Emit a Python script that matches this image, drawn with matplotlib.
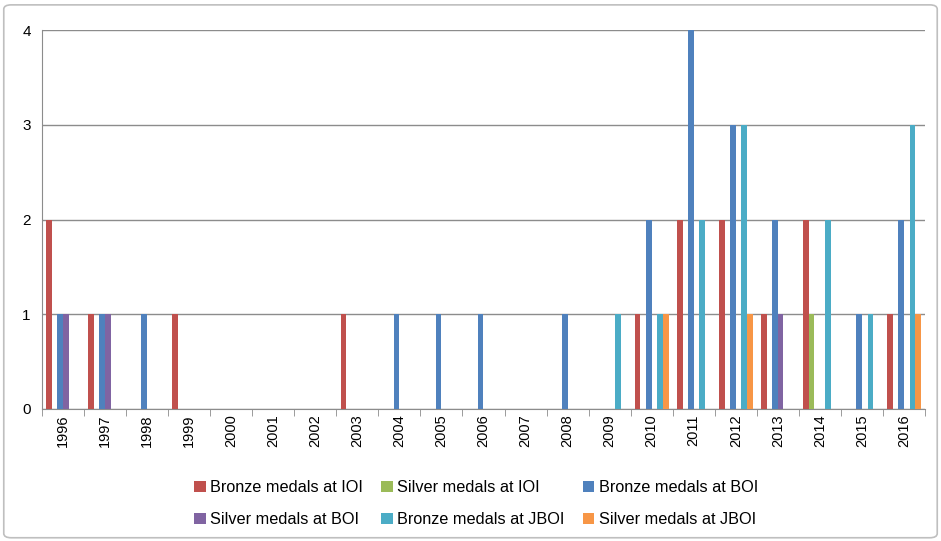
import numpy as np
import matplotlib.pyplot as plt
from matplotlib.patches import FancyBboxPatch

# data
years = ['1996', '1997', '1998', '1999', '2000', '2001', '2002', '2003', '2004', '2005',
         '2006', '2007', '2008', '2009', '2010', '2011', '2012', '2013', '2014', '2015', '2016']
bronze_ioi = [2, 1, 0, 1, 0, 0, 0, 1, 0, 0, 0, 0, 0, 0, 1, 2, 2, 1, 2, 0, 1]
silver_ioi = [0, 0, 0, 0, 0, 0, 0, 0, 0, 0, 0, 0, 0, 0, 0, 0, 0, 0, 1, 0, 0]
bronze_boi = [1, 1, 1, 0, 0, 0, 0, 0, 1, 1, 1, 0, 1, 0, 2, 4, 3, 2, 0, 1, 2]
silver_boi = [1, 1, 0, 0, 0, 0, 0, 0, 0, 0, 0, 0, 0, 0, 0, 0, 0, 1, 0, 0, 0]
bronze_jboi = [0, 0, 0, 0, 0, 0, 0, 0, 0, 0, 0, 0, 0, 1, 1, 2, 3, 0, 2, 1, 3]
silver_jboi = [0, 0, 0, 0, 0, 0, 0, 0, 0, 0, 0, 0, 0, 0, 1, 0, 1, 0, 0, 0, 1]

series = [bronze_ioi, silver_ioi, bronze_boi, silver_boi, bronze_jboi, silver_jboi]
labels = ['Bronze medals at IOI', 'Silver medals at IOI', 'Bronze medals at BOI',
          'Silver medals at BOI', 'Bronze medals at JBOI', 'Silver medals at JBOI']
colors = ['#C0504D', '#9BBB59', '#4F81BD', '#8064A2', '#4BACC6', '#F79646']

plt.rcParams['font.family'] = ['Liberation Sans', 'DejaVu Sans']

fig = plt.figure(figsize=(9.41, 5.41), dpi=100)
ax = fig.add_axes([0.0446, 0.244, 0.9384, 0.7005])

# outer chart frame
fig.patches.append(FancyBboxPatch((0.004, 0.006), 0.992, 0.985, boxstyle='round,pad=0,rounding_size=0.008',
                                  transform=fig.transFigure, fc='none', ec='#BFBFBF', lw=1.2))

x = np.arange(len(years))
w = 1 / 7.5
handles = []
for i, (vals, lab, c) in enumerate(zip(series, labels, colors)):
    b = ax.bar(x + (i - 2.5) * w, vals, width=w, color=c, label=lab, zorder=3)
    handles.append(b)

ax.set_xlim(-0.5, len(years) - 0.5)
ax.set_ylim(0, 4)
ax.set_yticks(range(5))
ax.yaxis.grid(True, color='#8C8C8C', lw=1, zorder=0)
ax.tick_params(axis='y', length=0, labelsize=11, pad=8)

ax.set_xticks(x)
ax.set_xticklabels(years, rotation=90, fontsize=10.5)
ax.set_xticks(np.arange(-0.5, len(years)), minor=True)
ax.tick_params(axis='x', which='major', length=0, pad=4)
ax.tick_params(axis='x', which='minor', length=5, color='#8C8C8C')

for s in ['top', 'right']:
    ax.spines[s].set_visible(False)
ax.spines['left'].set_color('#8C8C8C')
ax.spines['bottom'].set_color('#8C8C8C')

order = [0, 3, 1, 4, 2, 5]
fig.legend([handles[k] for k in order], [labels[k] for k in order], ncol=3,
           loc='center', bbox_to_anchor=(0.506, 0.069), frameon=False, fontsize=11.7,
           handlelength=0.7, handleheight=0.7, handletextpad=0.3, columnspacing=1.1,
           labelspacing=1.05)

fig.savefig('out.png', dpi=100)
